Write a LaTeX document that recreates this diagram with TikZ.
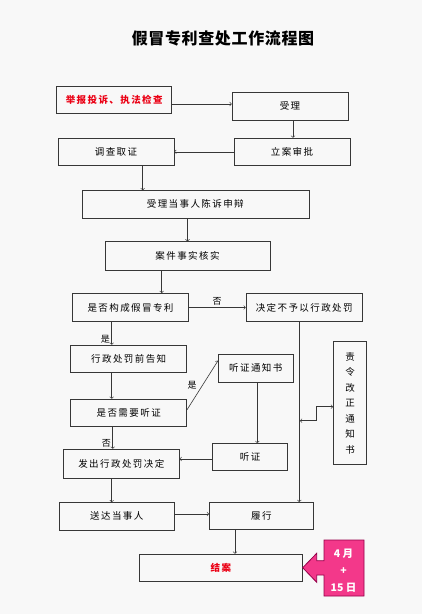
\documentclass[tikz,border=0pt]{standalone}
\usepackage{fontspec}
\setmainfont{Noto Sans CJK SC}
\usepackage{tikz}
\usetikzlibrary{positioning,calc}
\definecolor{pagegray}{RGB}{248,248,248}
\definecolor{linegray}{RGB}{55,55,55}
\definecolor{alertred}{RGB}{235,0,20}
\definecolor{memopink}{RGB}{243,56,138}
\definecolor{memoedge}{RGB}{150,0,75}
\newcommand{\boxfont}{\fontsize{9.5}{11}\selectfont\addfontfeature{LetterSpace=15}}

\begin{document}
\begin{tikzpicture}[x=1pt, y=-1pt,
    box/.style={draw=linegray, line width=0.6pt, font=\boxfont, inner sep=0pt, minimum height=27.5},
    flow/.style={->, draw=linegray, line width=0.6pt},
    tag/.style={font=\fontsize{9}{10}\selectfont, inner sep=1.5pt},
]
    % Page
    \fill[pagegray] (0,0) rectangle (422,614);
    \useasboundingbox (0,0) rectangle (422,614);
    \node[font=\fontsize{16}{19}\selectfont\bfseries\addfontfeature{LetterSpace=4}] (title) at (223,38) {假冒专利查处工作流程图};
    % Upper boxes
    \node[box, minimum width=115, text=alertred, font=\boxfont\bfseries] (report) at (114.2,100) {举报投诉、执法检查};
    \node[box, minimum width=116] (accept) at (290,106.3) {受理};
    \node[box, minimum width=116] (approve) at (292,151.8) {立案审批};
    \node[box, minimum width=116] (investigate) at (116,151.8) {调查取证};
    \node[box, minimum width=227] (defend) at (195.3,204.3) {受理当事人陈诉申辩};
    \node[box, minimum width=165, minimum height=28.3] (verify) at (187.5,255.8) {案件事实核实};
    \node[box, minimum width=115.6, minimum height=28.4] (judge) at (130.5,307.5) {是否构成假冒专利};
    \node[box, minimum width=116.3, minimum height=28.4] (nopenalty) at (304.2,307.5) {决定不予以行政处罚};
    % Middle boxes
    \node[box, minimum width=116] (inform) at (128.7,358.8) {行政处罚前告知};
    \node[box, minimum width=116] (hearq) at (128.7,412.8) {是否需要听证};
    \node[box, minimum width=75, minimum height=28.3] (notice) at (255.8,368.2) {听证通知书};
    \node[box, minimum width=75, minimum height=26.7] (hearing) at (250.2,456.7) {听证};
    \node[box, minimum width=116, minimum height=29.3] (decide) at (121.3,463.7) {发出行政处罚决定};
    \node[box, minimum width=33.4, minimum height=122.6, align=center, font=\fontsize{9.5}{15.5}\selectfont] (correct) at (350,403) {责\\令\\改\\正\\通\\知\\书};
    % Lower boxes
    \node[box, minimum width=115] (deliver) at (116.8,516.2) {送达当事人};
    \node[box, minimum width=104, minimum height=27] (perform) at (261.3,515.8) {履行};
    \node[box, minimum width=163, minimum height=27, text=alertred, font=\boxfont\bfseries] (close) at (220.8,567.5) {结案};
    % Connectors
    \draw[flow] ([yshift=-4]report.east) -- ([yshift=-4]report.east -| accept.west);
    \draw[flow] ([xshift=3]accept.south) -- ([xshift=3]accept.south |- approve.north);
    \draw[flow] (approve.west) -- (approve.west -| investigate.east);
    \draw[flow] ([xshift=26.7]investigate.south) -- ([xshift=26.7]investigate.south |- defend.north);
    \draw[flow] (verify.north |- defend.south) -- (verify.north);
    \draw[flow] ([xshift=31.2]judge.north |- verify.south) -- ([xshift=31.2]judge.north);
    \draw[flow] (judge.east) -- (judge.east -| nopenalty.west) node[tag, midway, above] {否};
    \draw[flow] ([xshift=-18.8]judge.south) -- ([xshift=-18.8]judge.south |- inform.north) node[tag, near end, left] {是};
    \draw[flow] ([xshift=-17]inform.south) -- ([xshift=-17]inform.south |- hearq.north);
    \draw[flow] ([yshift=3]hearq.east) -- ([yshift=7.5]notice.west) node[tag, midway, left, xshift=-4] {是};
    \draw[flow] ([xshift=1.5]notice.south) -- ([xshift=1.5]notice.south |- hearing.north);
    \draw[flow] ([yshift=-2.3]hearing.west) -- ([yshift=-2.3]hearing.west -| decide.east);
    \draw[flow] ([xshift=-16]hearq.south) -- ([xshift=-16]hearq.south |- decide.north) node[tag, near end, left] {否};
    \draw[flow] ([xshift=-9.6]decide.south) -- ([xshift=-9.6]decide.south |- deliver.north);
    \draw[flow] ([yshift=2.2]deliver.east) -- ([yshift=2.2]deliver.east -| perform.west);
    \draw[flow] ([xshift=-4.9]nopenalty.south) -- ([xshift=-4.9]nopenalty.south |- perform.north);
    \draw[flow] ([xshift=-26.3]perform.south) -- ([xshift=-26.3]perform.south |- close.north);
    % Correction link
    \coordinate (mainline) at (300,420.7);
    \draw[flow, <->] (mainline) -- ++(16.7,0) |- ([yshift=-3.7]correct.west);
    % Deadline callout
    \filldraw[fill=memopink, draw=memoedge, line width=0.8pt] (324,540) -- (364,540) -- (364,596) -- (324,596) -- (324,575) -- (316.7,575) -- (316.7,582.3) -- (302.7,567.7) -- (316.7,553.3) -- (316.7,560.7) -- (324,560.7) -- cycle;
    \node[align=center, text=white, font=\fontsize{10.5}{17}\selectfont\bfseries] (memo) at (343.5,571) {4 月\\+\\15 日};
\end{tikzpicture}
\end{document}
